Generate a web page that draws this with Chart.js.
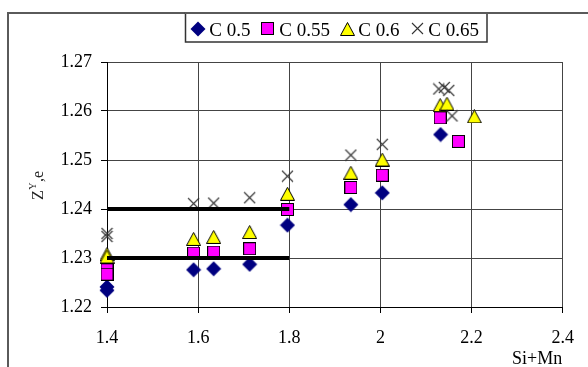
<!DOCTYPE html>
<html>
<head>
<meta charset="utf-8">
<script src="https://cdn.jsdelivr.net/npm/chart.js@4/dist/chart.umd.min.js"></script>
<style>
  html, body { margin: 0; padding: 0; background: #fff; }
  #wrap { width: 588px; height: 367px; }
</style>
</head>
<body>
<div id="wrap"><canvas id="c" width="588" height="367"></canvas></div>
<script>
// Tick labels
const xTickLabels = ['1.4', '1.6', '1.8', '2', '2.2', '2.4'];
const yTickLabels = ['1.22', '1.23', '1.24', '1.25', '1.26', '1.27'];

// Series names
const seriesNames = ['C 0.5', 'C 0.55', 'C 0.6', 'C 0.65'];

// C 0.5
const c05X = [1.4, 1.4, 1.59, 1.634, 1.713, 1.796, 1.935, 2.004, 2.132];
const c05Y = [1.2241, 1.2234, 1.2276, 1.2278, 1.2287, 1.2367, 1.2409, 1.2433, 1.2552];

// C 0.55
const c055X = [1.4, 1.4, 1.59, 1.634, 1.713, 1.796, 1.935, 2.004, 2.131, 2.171];
const c055Y = [1.2276, 1.2267, 1.2310, 1.2312, 1.2319, 1.2399, 1.2444, 1.2469, 1.2586, 1.2538];

// C 0.6
const c06X = [1.4, 1.4, 1.59, 1.634, 1.713, 1.796, 1.935, 2.004, 2.131, 2.146, 2.206];
const c06Y = [1.2308, 1.2303, 1.2339, 1.2343, 1.2353, 1.2431, 1.2474, 1.2501, 1.2612, 1.2615, 1.2589];

// C 0.65
const c065X = [1.4, 1.4, 1.59, 1.634, 1.713, 1.796, 1.935, 2.004, 2.128, 2.140, 2.150, 2.157];
const c065Y = [1.2350, 1.2344, 1.2411, 1.2412, 1.2423, 1.2467, 1.2510, 1.2532, 1.2645, 1.2648, 1.2642, 1.2590];

// Horizontal reference bars
const refX = [1.4, 1.8];
const refLow = [1.23, 1.23];
const refHigh = [1.24, 1.24];

function pts(xs, ys) { return xs.map((x, i) => ({ x: x, y: ys[i] })); }

// Marker glyphs
function makeCanvas(w, h, draw) {
  const cv = document.createElement('canvas');
  cv.width = w; cv.height = h;
  draw(cv.getContext('2d'));
  return cv;
}
const diamondImg = makeCanvas(16, 16, g => {
  g.fillStyle = '#000080';
  g.beginPath();
  g.moveTo(8, 0.5); g.lineTo(15.5, 8); g.lineTo(8, 15.5); g.lineTo(0.5, 8);
  g.closePath(); g.fill();
});
const squareImg = makeCanvas(13, 13, g => {
  g.fillStyle = '#000';
  g.fillRect(0, 0, 13, 13);
  g.fillStyle = '#ff00ff';
  g.fillRect(1, 1, 11, 11);
});
const triangleImg = makeCanvas(15, 14, g => {
  g.fillStyle = '#ffff00';
  g.strokeStyle = '#000';
  g.lineWidth = 1;
  g.beginPath();
  g.moveTo(7.5, 0.5); g.lineTo(14.5, 13.5); g.lineTo(0.5, 13.5);
  g.closePath(); g.fill(); g.stroke();
});
const crossImg = makeCanvas(13, 13, g => {
  g.strokeStyle = '#333';
  g.lineWidth = 1.1;
  g.beginPath();
  g.moveTo(1, 1); g.lineTo(12, 12);
  g.moveTo(12, 1); g.lineTo(1, 12);
  g.stroke();
});
const markers = [diamondImg, squareImg, triangleImg, crossImg];

const SERIF = '"Liberation Serif", "Times New Roman", serif';

// Frame, legend and axis titles
const decor = {
  id: 'decor',
  beforeDraw(chart) {
    const ctx = chart.ctx;
    ctx.save();
    ctx.fillStyle = '#fff';
    ctx.fillRect(0, 0, chart.width, chart.height);
    ctx.restore();
  },
  afterDraw(chart) {
    const ctx = chart.ctx;
    ctx.save();
    // outer frame (top and left edges)
    ctx.strokeStyle = '#5a5a5a';
    ctx.lineWidth = 2;
    ctx.beginPath();
    ctx.moveTo(8, chart.height); ctx.lineTo(8, 13); ctx.lineTo(chart.width, 13);
    ctx.stroke();

    // legend box
    ctx.fillStyle = '#fff';
    ctx.fillRect(185, 13, 302, 29);
    ctx.strokeStyle = '#333';
    ctx.lineWidth = 1.5;
    ctx.strokeRect(185.5, 13, 301.5, 29);
    ctx.strokeStyle = '#5a5a5a';
    ctx.lineWidth = 2;
    ctx.beginPath(); ctx.moveTo(185, 13); ctx.lineTo(488, 13); ctx.stroke();

    const items = [
      { mx: 198.3, tx: 209.3 },
      { mx: 267.7, tx: 279.3 },
      { mx: 347.5, tx: 358.3 },
      { mx: 417.5, tx: 428.3 }
    ];
    ctx.font = '19px ' + SERIF;
    ctx.fillStyle = '#000';
    ctx.textBaseline = 'alphabetic';
    ctx.textAlign = 'left';
    items.forEach((it, i) => {
      const m = markers[i];
      ctx.drawImage(m, Math.round(it.mx - m.width / 2), Math.round(28.5 - m.height / 2));
      ctx.fillText(seriesNames[i], it.tx, 35.5);
    });

    // x axis title
    ctx.font = '18px ' + SERIF;
    ctx.fillText('Si+Mn', 512, 364);

    // y axis title: Z^Y,e
    ctx.translate(43, 200);
    ctx.rotate(-Math.PI / 2);
    ctx.fillStyle = '#222';
    ctx.font = '16px ' + SERIF;
    ctx.fillText('Z', 0, 0);
    let w = ctx.measureText('Z').width;
    ctx.font = '10px ' + SERIF;
    ctx.fillText('Y', w + 0.5, -7);
    w += ctx.measureText('Y').width + 1;
    ctx.font = '16px ' + SERIF;
    ctx.fillText(',e', w, 0);
    ctx.restore();
  }
};

const markerDataset = (i, xs, ys, order) => ({
  label: seriesNames[i],
  data: pts(xs, ys),
  pointStyle: markers[i],
  pointRadius: 7,
  pointHoverRadius: 7,
  showLine: false,
  clip: false,
  order: order
});

const refDataset = (ys) => ({
  label: '',
  data: pts(refX, ys),
  showLine: true,
  borderColor: '#000',
  borderWidth: 4,
  pointRadius: 0,
  pointHoverRadius: 0,
  clip: false,
  order: 0
});

new Chart(document.getElementById('c'), {
  type: 'scatter',
  data: {
    datasets: [
      markerDataset(0, c05X, c05Y, 4),
      markerDataset(1, c055X, c055Y, 3),
      markerDataset(2, c06X, c06Y, 2),
      markerDataset(3, c065X, c065Y, 1),
      refDataset(refLow),
      refDataset(refHigh)
    ]
  },
  options: {
    responsive: false,
    animation: false,
    devicePixelRatio: 1,
    layout: { padding: { top: 62, right: 19, left: 0, bottom: 0 } },
    plugins: { legend: { display: false }, tooltip: { enabled: false }, title: { display: false } },
    scales: {
      x: {
        type: 'linear',
        min: 1.4, max: 2.4,
        afterFit(s) { s.height = 60; },
        ticks: {
          stepSize: 0.2,
          padding: 14,
          color: '#000',
          font: { family: SERIF, size: 18 },
          callback: (v, i) => xTickLabels[i] !== undefined ? xTickLabels[i] : String(v)
        },
        grid: { color: '#444', lineWidth: 1, tickLength: 6, tickColor: '#000' },
        border: { color: '#000', width: 1 }
      },
      y: {
        type: 'linear',
        min: 1.22, max: 1.27,
        afterFit(s) { s.width = 107; },
        ticks: {
          stepSize: 0.01,
          padding: 9,
          color: '#000',
          font: { family: SERIF, size: 18 },
          callback: (v, i) => yTickLabels[i] !== undefined ? yTickLabels[i] : v.toFixed(2)
        },
        grid: { color: '#444', lineWidth: 1, tickLength: 6, tickColor: '#000' },
        border: { color: '#000', width: 1 }
      }
    }
  },
  plugins: [decor]
});
</script>
</body>
</html>
